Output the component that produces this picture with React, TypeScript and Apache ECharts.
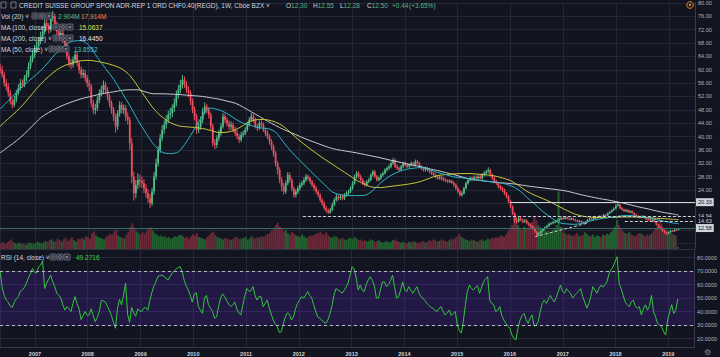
import { useEffect, useRef } from "react";
import * as echarts from "echarts";

const DAY = 86400000;
const BAR_START = Date.UTC(2006, 4, 5);
const BAR_STEP = 14 * DAY;
const X_MIN = Date.UTC(2006, 4, 4);
const X_MAX = Date.UTC(2019, 5, 29);
const FIRST_OPEN = 60.5;

const closes = [60,58.5,56,55,53, 50.5,49.5,51,53,54.5, 56,55.5,57.5,58.5,61, 63,64.5,66,67,68.5, 70,71.5,74,73,72, 75.5,76,73,71.5,70, 71,69,67.5,64,62, 61.5,63,64.5,62,60, 58.5,59,57.5,56,55, 50,48,48.5,51,53, 54,55.5,54,52,50, 48,46,43,47,49.5, 48,48.5,46,45,38, 28,23,25.5,27,26.5, 26,24.5,23,21.5,20, 23.5,28,32,36,39.5, 42,43.5,45,46.5,47, 48.5,50,52.5,54,55.5, 57,55.5,54,53,50.5, 48,46,42,43,45, 47.5,49,48,46.5,43, 38,37.5,39.5,41,43, 46,45,44,43,43.5, 42,41,40,39,40.5, 41,42,43.5,45,46, 45,43,42.5,44,43.5, 42,41,40,38.5,37, 35,32,30,27,25, 23.5,26,28.5,27,24.5, 22.5,23.5,24.5,25.5,26, 27,28,27.5,26.5,25.5, 24.5,23.5,22.5,21,20, 18.5,17.8,17.2,18,19.5, 21,22,21.5,22,21.5, 22.5,23,23.5,24.5,26, 28,29,28,27,26, 25.5,26.5,27,28.5,29.5, 28,27,27.5,28.5,29, 30,30.5,31,32,33, 31,30.5,30,31,32, 31.5,31,31.5,32,31.5, 32.5,32,31,30.5,30, 30.5,30,29.5,29,28.5, 28,27.5,27.8,27.3,27, 26.8,26.5,26.7,26.2,25.5, 24.5,23.5,22.5,23,24.5, 26,27,27.5,27,27.8, 27.5,28,27.5,28.5,29, 29.5,30,28.5,27.5,26.5, 26,25,24.5,24,23, 22,20.5,19,17,15, 14.5,15.5,15,14.5,14.8, 14,13.5,13,12.5,11.5, 10.5,11,11.8,12.3,12.8, 13.2,13.8,14,14.3,14.5, 14.8,15.2,15.6,15.4,15.8, 15.4,15.2,15.5,15.1,14.8, 14.6,14.7,14.3,14.1,14.4, 15,15.3,15.2,15.6,15.7, 15.9,16.1,16,16.5,16.4, 17,17.4,17.9,18.4,19.2, 19.6,18.5,18.1,17.7,17.9, 17.4,17.6,17.1,16.6,16.2, 16,15.8,16.1,15.7,15.2, 15.1,14.9,15.1,14.4,13.6, 13,12.5,11.8,11.2,11, 11.3,11.8,11.6,12.1,12.06, 12.5];

const highs = [61.8,61.2,59.5,57.2,56, 54,51.5,52.2,54,55.6, 57.2,57,58.4,59.8,62.2, 64.2,65.8,67.4,68.6,69.8, 71.4,73,75.2,75,74, 76.8,77.6,76.8,74.4,72.6, 72.4,72,70.2,68.4,65, 63.2,64,65.6,65.4,62.8, 61,60.2,60,58.4,57, 55.8,51,49.8,52,54.2, 55.2,56.8,56.4,54.8,52.8, 50.8,48.8,46.8,47.8,50.6, 50.4,49.6,49.4,47.2,45.8, 39.5,29.5,27,29,28.6, 28,27.2,25.8,24.2,22.8, 24.6,29.4,33.4,37.2,40.8, 43.4,44.8,46.4,47.8,48.6, 49.6,51.4,53.8,55.4,57, 58.4,58,56.6,55,53.8, 51.4,49,46.8,44.2,46, 48.6,50.2,49.8,48.8,47.2, 43.8,39.2,40.4,42,44, 47,46.8,45.8,44.8,44.6, 44.2,43,42,40.8,41.4, 41.8,42.8,44.4,45.8,47, 46.8,45.6,43.8,44.8,44.8, 44.2,42.6,41.8,40.6,39.2, 37.6,35.6,32.6,30.8,27.8, 26,26.8,29.4,29.2,27.6, 25,24.2,25.2,26.2,26.8, 27.8,28.8,28.6,28,27, 26,25.2,24,23,21.6, 20.6,19.2,18.4,18.6,20.2, 21.6,22.8,22.6,22.6,22.6, 23,23.6,24.1,25.1,26.6, 28.6,29.7,29.5,28.6,27.5, 26.6,27,27.6,29,30, 30,28.5,28,29,29.5, 30.5,31,31.6,32.6,33.6, 33.4,31.6,31,31.5,32.5, 32.5,32,31.9,32.5,32.4, 33.1,33,32.4,31.4,30.9, 31,30.9,30.4,29.9,29.4, 28.9,28.4,28.3,28.2,27.8, 27.5,27.2,27.1,27,26.6, 25.9,25,24,23.6,25, 26.5,27.5,28,28,28.3, 28.3,28.5,28.5,29,29.6, 30,30.8,30.4,29,28, 27,26.4,25.5,25,24.4, 23.4,22.4,21,19.4,17.4, 15.6,16,16,15.4,15.3, 15.2,14.4,14,13.4,12.8, 11.8,11.4,12.1,12.6,13.1, 13.6,14.2,14.4,14.7,14.9, 15.2,15.6,16,15.9,16.2, 16.1,15.7,15.8,15.7,15.3, 15.1,15,14.9,14.5,14.7, 15.3,15.6,15.6,15.9,16, 16.2,16.4,16.4,16.8,16.8, 17.3,17.7,18.2,18.8,19.7, 20.33,19.9,18.9,18.4,18.3, 18.2,17.9,17.9,17.4,16.9, 16.5,16.3,16.4,16.4,15.9, 15.5,15.4,15.4,15.3,14.6, 13.8,13.2,12.7,12,11.5, 11.5,12,12,12.3,12.3, 12.55];

const lows = [59,57.6,55,53.8,52, 49.6,48.4,48.8,50.2,52.4, 53.8,54.6,54.8,56.6,57.8, 60.2,62.2,63.6,65,66.2, 67.6,69,70.6,71.8,70.8, 71.2,74.4,72,70.2,68.8, 68.6,68,66,63,60.8, 60.2,60.6,62,61,58.8, 57.4,57.6,56.4,54.8,53.6, 48.8,46.8,46.6,47.6,50, 52,53,53,50.8,48.8, 46.8,44.6,41.2,42,46, 46.8,46.8,44.6,43.6,36, 26,20.8,21.5,24.2,24.8, 24.6,23,21.6,20.2,18.6, 19.2,22.6,27,31,35, 38.6,40.8,42.4,44,45.2, 45.8,47.4,49,51.4,53, 54.4,54.6,53,51.8,49.4, 47,44.8,40.8,41,42, 44,46.6,47,45.4,41.8, 37,36.2,36.6,38.6,40.2, 42.4,44,43,42,42, 41.2,40.2,39.2,38,38.4, 39.8,40.4,41.4,43,44.4, 44.2,42.4,41.6,42,42.8, 41.4,40.2,39.2,37.6,36, 34,31,28.6,26,23.6, 22.6,22.8,25.4,26.2,23.6, 21.6,21.8,22.8,23.8,24.8, 25.4,26.4,26.8,25.8,24.8, 23.8,22.8,21.8,20.3,19.2, 18,17.2,16.8,16.9,17.6, 19.1,20.5,20.8,21,20.9, 21,22,22.5,23,24, 25.6,27.4,27.5,26.5,25.5, 25,25,26,26.6,28, 27.5,26.5,26.6,27,28, 28.6,29.5,30,30.5,31.5, 30.5,30,29.5,29.6,30.5, 31,30.5,30.5,31,31, 31,31.6,30.6,30,29.5, 29.5,29.5,29,28.5,28, 27.5,27,27.1,26.8,26.5, 26.3,26,26.1,25.8,25, 24,23,22,22,22.6, 24.1,25.6,26.5,26.6,26.6, 27,27,27,27,28, 28.5,29,28,27,26, 25.5,24.5,24,23.4,22.5, 21.5,20,18.5,16.5,14.2, 13.8,14.2,14.6,14,14.1, 13.6,13.1,12.6,12,11, 10.1,10.2,10.8,11.5,12, 12.5,12.9,13.5,13.7,14, 14.2,14.5,14.9,15.1,15.1, 15.1,14.9,14.9,14.8,14.5, 14.3,14.3,14,13.8,13.9, 14.2,14.8,14.9,15,15.3, 15.5,15.7,15.8,15.8,16.1, 16.2,16.8,17.2,17.7,18.2, 19,18.2,17.8,17.4,17.4, 17.1,17.1,16.8,16.3,15.9, 15.7,15.5,15.6,15.4,14.9, 14.8,14.6,14.7,14.2,13.3, 12.7,12.2,11.5,10.9,10.6, 10.7,11.1,11.4,11.5,11.9, 11.95];

const volumes = [7,9,6,8,10,12,9,7,6,8, 6,7,5,6,8,7,6,7,9,8, 7,8,10,9,11,12,9,10,13,11, 9,12,14,10,12,15,11,9,13,12, 14,12,16,15,13,20,22,17,15,14, 13,12,15,17,19,18,22,24,17,15, 14,13,18,21,28,32,26,22,20,18, 21,19,22,25,27,23,20,18,16,17, 15,16,14,15,13,14,16,15,17,18, 16,14,15,13,16,18,17,20,15,14, 13,12,15,17,20,22,18,15,14,13, 12,14,13,12,11,13,15,14,12,13, 14,15,12,13,16,14,13,15,14,16, 15,17,19,20,23,26,30,33,28,25, 22,24,20,18,21,19,17,16,15,18, 16,14,15,17,16,18,19,20,22,19, 18,21,17,15,14,16,15,13,12,14, 12,11,13,14,12,15,13,11,12,10, 11,9,10,12,11,9,10,11,9,8, 9,10,8,9,11,12,10,9,8,9, 8,7,9,8,10,9,8,7,9,10, 8,9,11,10,12,11,9,10,12,11, 10,9,11,13,12,14,16,19,15,13, 12,11,10,12,11,10,9,11,12,10, 11,13,12,14,13,15,14,16,17,15, 18,22,26,30,38,42,30,26,24,28, 25,27,30,34,40,36,30,27,25,24, 22,23,21,24,26,30,72,28,22,20, 18,19,17,16,18,20,17,16,18,21, 19,17,16,18,15,17,16,15,18,17, 19,18,21,24,28,36,30,25,22,20, 19,21,18,17,16,18,20,19,17,16, 18,17,19,22,26,28,38,32,27,25, 23,22,20,18,17,2.9];

const rsiValues = [69.5,58,52,48.5,47,44,43,47,49.5,51, 55,56,58,61,65,68,72,69,68.5,73, 74.5,77,57,61,64,67,62,58.4,53.5,52, 50,45,41,43.6,42,40,46,51,46,42, 34,37,40,37,37.5,42,37,32.5,35.5,40, 48,48,47,44,41,37,32,27.6,42,49, 45,52,61,38,32,43,39,36.5,42,40.5, 40,42.5,43,41,48,54,59,62,66,66.5, 67,66,64.5,63.3,66,68.3,70,71.5,72.5,73.2, 69.5,63,59,56,52,47,53,54,43.6,41, 38.6,50,52,45,42.5,40,35,36,44,50, 53,51,48,45.5,43.6,45,47,42,39,37.4, 45,52,57,55,55.5,58.4,52,48.5,51,51, 43.6,46,48.5,43,38,33.7,31,28.8,24.5,25, 31,36,39,38,33.7,36,42,46,48.5,51, 50,52,54.7,52,50,45,40,36,35,33.7, 32,31.3,33.7,38,43.6,52,57,56,55,53.5, 55.5,58,61,67,73.2,71.5,65,56,59.6,56, 54.7,60,63.5,65.8,63,59,50,50,56,62, 62,58.4,60,63,67,58,50,51,56,62, 56,54.7,58.4,56,53.5,56,58.4,54,51,50, 48,46,44.5,43,42.4,41,40,42.5,43.6,40, 37.4,39,41,37,38.5,40,30,26,24,33, 45,55,59.6,57,56,58,59,53.5,58,62, 64.5,65.8,48.5,46,45,40,41,43.6,37,33.7, 31.3,29,27.6,22.6,20,19,28,33.7,37,38.6, 34,31.3,35,37.4,29,30,32.5,40,46,48.5, 46,49,52,49,47,51,55,59.6,55,53.5, 57,55,53.5,50,52,53.5,55,57,51,47, 42.4,46,51,58.4,56,53.5,57,59.6,58,60, 62,68,71,73.2,77,80.6,61,57,52,47, 45,43.6,47,48.5,44,42.4,43.6,37.4,42,45, 41,44,52,40,36,31.3,30,28.8,25,22.6, 33.7,40,45,38.6,41,49.27];

// moving averages, one point every 4 bars plus the last bar
const ma50 = [48.2,50.7,53.2,55.5,57.6,59.7,62.4,65.2,67.3,68.6, 68.7,67.2,63.7,60.4,57.2,53.3,49.3,44.9,41,37.5, 35.3,34.9,35.4,38.4,42.3,46.3,48.5,48,46.9,45.3, 44,43.3,42.6,42.4,41.3,38.2,35.3,32.8,30.4,28, 25.7,23.4,22.6,22.3,22.3,22.4,23.8,26.2,28,29.3, 30.1,30.5,30.7,30.1,29.2,28.6,27.9,27.6,27.3,26.9, 26.6,26.4,26,25.3,24,21.8,19.7,17.5,15.7,14.2, 13.8,13.7,14.1,14.8,15.3,15.7,16,16.3,16.3,15.9, 15.6,15.1,14.6,14.1,13.86];
const ma100 = [43.1,45.3,47.5,50,52.9,55.7,58,60,61.3,62.1, 62.7,62.8,62.5,62,61.3,60.3,58.3,55,51.5,48.2, 45.8,44.2,43.2,42.9,42.7,42.4,41.8,41.2,41.3,42, 43.3,44.7,45.1,45,44.3,43,40.8,38.7,36.8,35, 33.3,31.7,30.1,28.5,26.9,25.7,24.8,24.7,25,25.3, 25.6,26,26.6,27.5,28.3,28.6,28.8,28.9,28.9,28.7, 28.5,28.2,27.6,26.8,25.3,23.6,22.4,21.4,20.3,19, 17.8,16.7,16.1,15.8,15.7,15.7,15.8,15.9,15.9,15.8, 15.7,15.5,15.4,15.2,15.06];
const ma200 = [35.1,36.9,38.7,40.8,43.2,45.6,47.2,48.5,49.6,50.5, 51.3,51.9,52.5,53,53.4,53.8,54,54,53.3,52.8, 52.8,52.7,52.6,52.4,52.2,52,51.6,51.2,50.6,50, 48.8,47.4,46,44.6,43.3,42.1,41.1,40,39,38.1, 37.2,36.4,35.9,35.5,35.1,34.6,34.1,33.6,33,32.5, 31.9,31.4,30.9,30.3,29.8,29.2,28.6,27.9,27.3,26.9, 26.6,26.3,26.1,25.9,25.6,25.2,24.9,24.6,24.3,24, 23.6,23,22.4,21.9,21.4,21,20.5,20,19.4,18.8, 18.3,17.7,17.2,16.8,16.45];

const priceGridTicks = [8, 12, 16, 20, 24, 28, 32, 36, 40, 44, 48, 52, 56, 60, 64, 68, 72, 76, 80];
const priceTickLabels = [24, 28, 32, 36, 40, 44, 48, 52, 56, 60, 64, 68, 72, 76, 80];
const rsiTicks = [20, 30, 40, 50, 60, 70, 80];

const BG = "#121420";
const GRID = "#232639";
const AXIS = "#363a4a";
const LABEL = "#b2b5be";
const UP = "#53b987";
const DOWN = "#eb4d5c";
const VOL_UP = "#22602f";
const VOL_DOWN = "#6a2838";
const FF = "'Liberation Sans', Arial, sans-serif";

const barTime = (i: number) => BAR_START + i * BAR_STEP;
const maTime = (k: number) => barTime(k < 84 ? k * 4 : closes.length - 1);
const openOf = (i: number) => (i === 0 ? FIRST_OPEN : closes[i - 1]);

const t = (x: number, y: number, text: string, fill = "#d1d4dc", size = 6.5, extra: any = {}) => ({
  type: "text", x, y, z: 50, silent: true,
  style: { text, fill, fontSize: size, fontFamily: FF, verticalAlign: "middle", align: "left", ...extra },
});
const icons = (x0: number, y: number) => {
  const out: any[] = [];
  for (let j = 0; j < 3; j++) {
    out.push({ type: "rect", z: 50, silent: true, shape: { x: x0 + j * 7, y: y - 3, width: 6, height: 6, r: 0.5 }, style: { fill: "#2a2d3a", stroke: "#8b8e99", lineWidth: 0.6 } });
  }
  out.push(t(x0 + 15.2, y, "×", "#c0c3cc", 5.5));
  out.push({ type: "circle", z: 51, silent: true, shape: { cx: x0 + 3, cy: y, r: 1.3 }, style: { fill: "none", stroke: "#c0c3cc", lineWidth: 0.5 } });
  out.push({ type: "circle", z: 51, silent: true, shape: { cx: x0 + 10, cy: y, r: 1.4 }, style: { fill: "none", stroke: "#c0c3cc", lineWidth: 0.6 } });
  return out;
};
const ohlc = (x: number, k: string, v: string) => ({
  type: "text", x, y: 5, z: 50, silent: true,
  style: { text: `{k|${k}}{v|${v}}`, fontSize: 6.5, fontFamily: FF, verticalAlign: "middle", align: "left",
    rich: { k: { fill: "#d1d4dc", fontSize: 6.5, fontFamily: FF }, v: { fill: UP, fontSize: 6.5, fontFamily: FF } } },
});
const axisTag = (text: string, bg: string, fg: string) => ({
  show: true, position: "end", distance: 1, formatter: text, color: fg, backgroundColor: bg,
  padding: [1.5, 2, 0.5, 2], fontSize: 5.5, fontFamily: FF,
});
const dashed = { color: "#cfd0d6", width: 1, type: [3, 2] };

function renderCandle(_params: any, api: any) {
  const time = api.value(0);
  const o = api.value(1);
  const c = api.value(2);
  const pO = api.coord([time, o]);
  const pC = api.coord([time, c]);
  const pL = api.coord([time, api.value(3)]);
  const pH = api.coord([time, api.value(4)]);
  const x = pO[0];
  const color = c >= o ? UP : DOWN;
  const top = Math.min(pO[1], pC[1]);
  const h = Math.max(1, Math.abs(pO[1] - pC[1]));
  return {
    type: "group",
    children: [
      { type: "line", shape: { x1: x, y1: pH[1], x2: x, y2: pL[1] }, style: { stroke: color, lineWidth: 1 } },
      { type: "rect", shape: { x: x - 0.9, y: top, width: 1.8, height: h }, style: { fill: color } },
    ],
  };
}

export default function App() {
  const ref = useRef<HTMLDivElement>(null);
  useEffect(() => {
    const chart = echarts.init(ref.current!, null, { renderer: "svg" });
    const candleData = closes.map((c, i) => [barTime(i), openOf(i), c, lows[i], highs[i]]);
    const volData = volumes.map((v, i) => ({ value: [barTime(i), v], itemStyle: { color: closes[i] >= openOf(i) ? VOL_UP : VOL_DOWN } }));
    const line = (arr: number[]) => arr.map((v, k) => [maTime(k), v]);
    const rsiData = rsiValues.map((v, i) => [barTime(i), v]);
    const YEAR = 365 * DAY;
    const timeAxis = (gridIndex: number, extra: any) => ({
      type: "time", gridIndex, min: X_MIN, max: X_MAX, minInterval: YEAR, maxInterval: YEAR,
      axisTick: { show: false },
      splitLine: { show: true, lineStyle: { color: GRID, width: 1 } },
      ...extra,
    });

    const option: any = {
      animation: false,
      useUTC: true,
      backgroundColor: BG,
      grid: [
        { left: 0, top: 0, width: 695, height: 249 },
        { left: 0, top: 189, width: 695, height: 60 },
        { left: 0, top: 250, width: 695, height: 97 },
      ],
      xAxis: [
        timeAxis(0, { axisLabel: { show: false }, axisLine: { show: true, lineStyle: { color: "#2c3042" } } }),
        timeAxis(1, { show: false, splitLine: { show: false } }),
        timeAxis(2, {
          axisLine: { show: true, lineStyle: { color: AXIS } },
          axisLabel: { show: true, showMinLabel: false, showMaxLabel: false, color: "#d1d4dc", fontSize: 5.5, fontWeight: "bold", fontFamily: FF, margin: 4,
            formatter: (v: number) => String(new Date(v).getUTCFullYear()) },
        }),
      ],
      yAxis: [
        { type: "value", gridIndex: 0, position: "right", min: 6.3, max: 80.3,
          axisLine: { show: true, lineStyle: { color: AXIS } },
          axisTick: { show: false, customValues: priceGridTicks },
          axisLabel: { customValues: priceTickLabels, formatter: (v: number) => v.toFixed(2), color: LABEL, fontSize: 5.5, fontFamily: FF, margin: 3 },
          splitLine: { show: true, lineStyle: { color: GRID, width: 1 } } },
        { type: "value", gridIndex: 1, min: 0, max: 75, show: false, splitLine: { show: false } },
        { type: "value", gridIndex: 2, position: "right", min: 13.7, max: 85.6,
          axisLine: { show: true, lineStyle: { color: AXIS } },
          axisTick: { show: false, customValues: rsiTicks },
          axisLabel: { customValues: rsiTicks, formatter: (v: number) => v.toFixed(4), color: LABEL, fontSize: 5.5, fontFamily: FF, margin: 3 },
          splitLine: { show: true, lineStyle: { color: "rgba(120,120,170,0.22)", width: 1 } } },
      ],
      series: [
        { type: "bar", xAxisIndex: 1, yAxisIndex: 1, data: volData, barWidth: 2, z: 1, silent: true },
        { type: "custom", xAxisIndex: 0, yAxisIndex: 0, data: candleData, encode: { x: 0, y: [1, 2, 3, 4] },
          renderItem: renderCandle, z: 3, silent: true, clip: true,
          markLine: {
            silent: true, symbol: ["none", "none"], animation: false,
            data: [
              [{ coord: [Date.UTC(2015, 11, 28), 20.33], lineStyle: { color: "#d6d6d6", width: 1, type: "solid" }, label: axisTag("20.33", "#d1d4dc", "#131722") }, { coord: [X_MAX, 20.33] }],
              [{ coord: [Date.UTC(2012, 0, 27), 16.1], lineStyle: dashed, label: axisTag("14.94", BG, "#d1d4dc") }, { coord: [X_MAX, 16.1] }],
              [{ coord: [Date.UTC(2018, 2, 1), 14.63], lineStyle: dashed, label: axisTag("14.63", BG, "#d1d4dc") }, { coord: [X_MAX, 14.63] }],
              [{ coord: [X_MIN, 12.58], lineStyle: { color: "#3a6d6a", width: 1, type: "solid" }, label: axisTag("12.58", "#d1d4dc", "#131722") }, { coord: [X_MAX, 12.58] }],
              [{ coord: [Date.UTC(2016, 5, 20), 10.0], lineStyle: dashed, label: { show: false } }, { coord: [Date.UTC(2017, 5, 14), 14.03] }],
              { yAxis: 10.17, lineStyle: { opacity: 0 }, label: axisTag("12.50", UP, "#ffffff") },
              { yAxis: 7.49, lineStyle: { opacity: 0 }, label: axisTag("11.51", "#d1d4dc", "#131722") },
            ],
          } },
        { type: "line", xAxisIndex: 0, yAxisIndex: 0, data: line(ma200), symbol: "none", smooth: 0.3, z: 4, silent: true, lineStyle: { color: "#c9c9cf", width: 1 } },
        { type: "line", xAxisIndex: 0, yAxisIndex: 0, data: line(ma100), symbol: "none", smooth: 0.3, z: 4, silent: true, lineStyle: { color: "#c9c83a", width: 1 } },
        { type: "line", xAxisIndex: 0, yAxisIndex: 0, data: line(ma50), symbol: "none", smooth: 0.3, z: 4, silent: true, lineStyle: { color: "#2cb6c9", width: 1 } },
        { type: "line", xAxisIndex: 2, yAxisIndex: 2, data: rsiData, symbol: "none", z: 4, silent: true, lineStyle: { color: "#35c63e", width: 1 },
          markArea: { silent: true, itemStyle: { color: "rgba(96,40,215,0.2)" }, data: [[{ yAxis: 30 }, { yAxis: 70 }]] },
          markLine: { silent: true, symbol: ["none", "none"], label: { show: false }, lineStyle: { color: "#b8b8c8", type: [3, 3], width: 1 }, data: [{ yAxis: 70 }, { yAxis: 30 }] } },
      ],
      graphic: [
        { type: "rect", z: 50, silent: true, shape: { x: 1, y: 2, width: 5, height: 6 }, style: { fill: "none", stroke: "#9598a1", lineWidth: 0.7 } },
        { type: "rect", z: 50, silent: true, shape: { x: 11, y: 2, width: 5, height: 6 }, style: { fill: "none", stroke: "#9598a1", lineWidth: 0.7 } },
        t(19, 5, "CREDIT SUISSE GROUP SPON ADR-REP 1 ORD CHF0.40(REGD), 1W, Cboe BZX ˅"),
        ohlc(286, "O", "12.30"), ohlc(313, "H", "12.55"), ohlc(340, "L", "12.28"), ohlc(367, "C", "12.50"),
        t(392, 5, "+0.44", UP), t(409, 5, "(+3.65%)", UP),
        t(1, 16, "Vol (20) ˅"), ...icons(32, 16), t(58, 16, "2.904M", UP), t(81, 16, "17.914M", "#f08c3a"),
        t(1, 27, "MA (100, close) ˅"), ...icons(53, 27), t(79, 27, "15.0637", "#e5e54b"),
        t(1, 38, "MA (200, close) ˅"), ...icons(53, 38), t(79, 38, "16.4450", "#e6e6e6"),
        t(1, 49, "MA (50, close) ˅"), ...icons(49, 49), t(74, 49, "13.8552", "#3cc4d8"),
        t(1, 257, "RSI (14, close) ˅"), ...icons(50, 257), t(76, 257, "49.2716", "#3fd24a"),
        { type: "circle", z: 50, silent: true, shape: { cx: 690, cy: 5, r: 3.3 }, style: { fill: "none", stroke: "#f08a24", lineWidth: 1 } },
        { type: "circle", z: 50, silent: true, shape: { cx: 690, cy: 5, r: 1.2 }, style: { fill: "#f08a24" } },
        t(704, 352, "⚙", "#8a8d99", 8, { fontFamily: "DejaVu Sans" }),
      ],
    };
    chart.setOption(option);
    return () => chart.dispose();
  }, []);
  return <div ref={ref} style={{ position: "fixed", left: 0, top: 0, width: 720, height: 357, background: BG }} />;
}
